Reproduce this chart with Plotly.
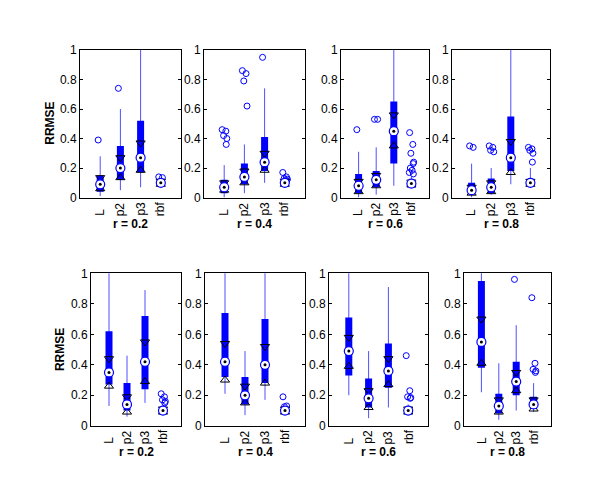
import plotly.graph_objects as go

# categories and panel titles
categories = ["L", "p2", "p3", "rbf"]
r_labels = ["r = 0.2", "r = 0.4", "r = 0.6", "r = 0.8"]

# box statistics, one row per panel (top row: panels 0-3, bottom row: 4-7)
whisker_lo = [
    [0.01, 0.05, 0.07, 0.07],
    [0.00, 0.03, 0.10, 0.07],
    [0.00, 0.02, 0.08, 0.07],
    [0.00, 0.02, 0.09, 0.08],
    [0.13, 0.06, 0.15, 0.07],
    [0.21, 0.07, 0.17, 0.08],
    [0.20, 0.05, 0.12, 0.07],
    [0.22, 0.04, 0.10, 0.09],
]
whisker_hi = [
    [0.28, 0.60, 1.10, 0.13],
    [0.22, 0.36, 0.74, 0.15],
    [0.31, 0.34, 1.10, 0.14],
    [0.23, 0.20, 1.10, 0.20],
    [1.10, 0.46, 0.89, 0.13],
    [1.10, 0.49, 1.10, 0.12],
    [1.10, 0.49, 0.91, 0.14],
    [1.10, 0.41, 0.66, 0.28],
]
q1 = [
    [0.04, 0.12, 0.17, 0.08],
    [0.03, 0.09, 0.18, 0.085],
    [0.03, 0.07, 0.23, 0.08],
    [0.02, 0.03, 0.18, 0.08],
    [0.27, 0.10, 0.24, 0.08],
    [0.32, 0.14, 0.28, 0.09],
    [0.33, 0.12, 0.25, 0.08],
    [0.38, 0.08, 0.20, 0.11],
]
q3 = [
    [0.15, 0.35, 0.52, 0.12],
    [0.12, 0.23, 0.41, 0.12],
    [0.16, 0.18, 0.65, 0.11],
    [0.10, 0.13, 0.55, 0.125],
    [0.62, 0.28, 0.72, 0.12],
    [0.74, 0.32, 0.70, 0.12],
    [0.71, 0.31, 0.54, 0.12],
    [0.95, 0.21, 0.42, 0.19],
]
medians = [
    [0.09, 0.20, 0.27, 0.10],
    [0.07, 0.14, 0.24, 0.10],
    [0.08, 0.12, 0.45, 0.095],
    [0.05, 0.07, 0.27, 0.10],
    [0.35, 0.14, 0.42, 0.10],
    [0.42, 0.20, 0.40, 0.10],
    [0.49, 0.18, 0.36, 0.10],
    [0.55, 0.13, 0.29, 0.14],
]
notch_hi = [
    [0.135, 0.27, 0.37, 0.11],
    [0.10, 0.18, 0.30, 0.11],
    [0.11, 0.15, 0.56, 0.105],
    [0.07, 0.10, 0.38, 0.11],
    [0.44, 0.19, 0.55, 0.11],
    [0.54, 0.26, 0.52, 0.11],
    [0.58, 0.23, 0.44, 0.11],
    [0.70, 0.17, 0.35, 0.17],
]
notch_lo = [
    [0.06, 0.135, 0.185, 0.09],
    [0.05, 0.10, 0.185, 0.09],
    [0.04, 0.08, 0.35, 0.085],
    [0.03, 0.04, 0.17, 0.09],
    [0.26, 0.09, 0.29, 0.09],
    [0.30, 0.15, 0.28, 0.09],
    [0.39, 0.12, 0.27, 0.09],
    [0.41, 0.09, 0.23, 0.11],
]
outliers = [
    [[0.39], [0.74], [], [0.14, 0.135]],
    [[0.46, 0.45, 0.42, 0.40, 0.36], [0.86, 0.84, 0.79, 0.62], [0.95], [0.17, 0.14, 0.13, 0.125, 0.115]],
    [[0.46], [0.53, 0.53], [], [0.44, 0.36, 0.30, 0.24, 0.23, 0.20, 0.185, 0.17, 0.16]],
    [[0.35, 0.34], [0.35, 0.34, 0.32, 0.31], [], [0.34, 0.33, 0.32, 0.30, 0.24]],
    [[], [], [], [0.21, 0.19, 0.17, 0.16, 0.15]],
    [[], [], [], [0.19, 0.13, 0.125]],
    [[], [], [], [0.46, 0.23, 0.19, 0.185, 0.18]],
    [[], [], [0.96], [0.84, 0.41, 0.37, 0.36, 0.35]],
]

# layout in pixels (axes boxes were shrunk differently by the rotated labels)
W, H = 600, 485
PANEL_X = [(72, 173), (196, 297), (333, 421), (444, 542),
           (83, 173), (197, 297), (321, 420), (456, 543)]
ROW_Y = [(36, 188), (266, 423)]
JITTER = [-0.1, 0.08, -0.03, 0.13, 0.1, -0.06, 0.04, -0.12, 0.11]

BLUE = "#0000ff"
FONT = "Arial, Liberation Sans, Helvetica, sans-serif"

fig = go.Figure()
annotations = []

for k in range(8):
    n = k + 1
    xa = "x" if n == 1 else f"x{n}"
    ya = "y" if n == 1 else f"y{n}"
    x0, x1 = PANEL_X[k]
    y0, y1 = ROW_Y[k // 4]
    pos = list(range(1, len(categories) + 1))

    wx, wy, bx, by = [], [], [], []
    for i, p in enumerate(pos):
        wx += [p, p, None]
        wy += [whisker_lo[k][i], whisker_hi[k][i], None]
        bx += [p, p, None]
        by += [q1[k][i], q3[k][i], None]

    fig.add_trace(go.Scatter(x=wx, y=wy, mode="lines", xaxis=xa, yaxis=ya,
                             line=dict(color="#5050ff", width=1), hoverinfo="skip"))
    fig.add_trace(go.Scatter(x=bx, y=by, mode="lines", xaxis=xa, yaxis=ya,
                             line=dict(color=BLUE, width=7), hoverinfo="skip"))

    # outliers with a small fixed jitter
    ox, oy = [], []
    for i, p in enumerate(pos):
        for j, v in enumerate(outliers[k][i]):
            ox.append(p + JITTER[j % len(JITTER)])
            oy.append(v)
    fig.add_trace(go.Scatter(x=ox, y=oy, mode="markers", xaxis=xa, yaxis=ya, cliponaxis=False,
                             marker=dict(symbol="circle-open", size=6, color=BLUE,
                                         line=dict(width=1, color=BLUE))))

    # notch markers
    fig.add_trace(go.Scatter(x=pos, y=notch_hi[k], mode="markers", xaxis=xa, yaxis=ya, cliponaxis=False,
                             marker=dict(symbol="triangle-down-open", size=8, color="black",
                                         line=dict(width=1, color="black"))))
    fig.add_trace(go.Scatter(x=pos, y=notch_lo[k], mode="markers", xaxis=xa, yaxis=ya, cliponaxis=False,
                             marker=dict(symbol="triangle-up-open", size=8, color="black",
                                         line=dict(width=1, color="black"))))

    # median: white circle with a black dot
    fig.add_trace(go.Scatter(x=pos, y=medians[k], mode="markers", xaxis=xa, yaxis=ya, cliponaxis=False,
                             marker=dict(symbol="circle", size=9, color="white",
                                         line=dict(width=1.2, color=BLUE))))
    fig.add_trace(go.Scatter(x=pos, y=medians[k], mode="markers", xaxis=xa, yaxis=ya, cliponaxis=False,
                             marker=dict(symbol="circle", size=3, color="black")))

    fig.layout[f"xaxis{'' if n == 1 else n}"] = dict(
        domain=[x0 / W, x1 / W], anchor=ya, range=[0, 5],
        showline=True, mirror=True, linecolor="black", linewidth=1,
        showgrid=False, zeroline=False, showticklabels=False, ticks="")
    fig.layout[f"yaxis{'' if n == 1 else n}"] = dict(
        domain=[1 - y1 / H, 1 - y0 / H], anchor=xa, range=[0, 1],
        tickvals=[0, 0.2, 0.4, 0.6, 0.8, 1], ticktext=["0", "0.2", "0.4", "0.6", "0.8", "1"],
        ticks="inside", ticklen=3, tickcolor="black",
        showline=True, mirror="ticks", linecolor="black", linewidth=1,
        showgrid=False, zeroline=False, tickfont=dict(size=12, color="black", family=FONT))

    # rotated category labels, bottom aligned
    for i, p in enumerate(pos):
        annotations.append(dict(x=p, xref=xa, y=1 - (y1 + 21) / H, yref="paper",
                                text=categories[i], textangle=-90, showarrow=False,
                                xanchor="center", yanchor="bottom",
                                font=dict(size=12, color="black", family=FONT)))
    annotations.append(dict(x=(x0 + x1) / 2 / W, xref="paper", y=1 - (y1 + 27) / H, yref="paper",
                            text=f"<b>{r_labels[k % 4]}</b>", showarrow=False,
                            xanchor="center", yanchor="middle",
                            font=dict(size=12, color="black", family=FONT)))

annotations.append(dict(x=42 / W, xref="paper", y=1 - 112 / H, yref="paper", text="<b>RRMSE</b>",
                        textangle=-90, showarrow=False, xanchor="center", yanchor="middle",
                        font=dict(size=12, color="black", family=FONT)))
annotations.append(dict(x=52 / W, xref="paper", y=1 - 345 / H, yref="paper", text="<b>RRMSE</b>",
                        textangle=-90, showarrow=False, xanchor="center", yanchor="middle",
                        font=dict(size=12, color="black", family=FONT)))

fig.update_layout(width=W, height=H, margin=dict(l=0, r=0, t=0, b=0),
                  paper_bgcolor="white", plot_bgcolor="white", showlegend=False,
                  annotations=annotations)

fig.write_html("out.html")
